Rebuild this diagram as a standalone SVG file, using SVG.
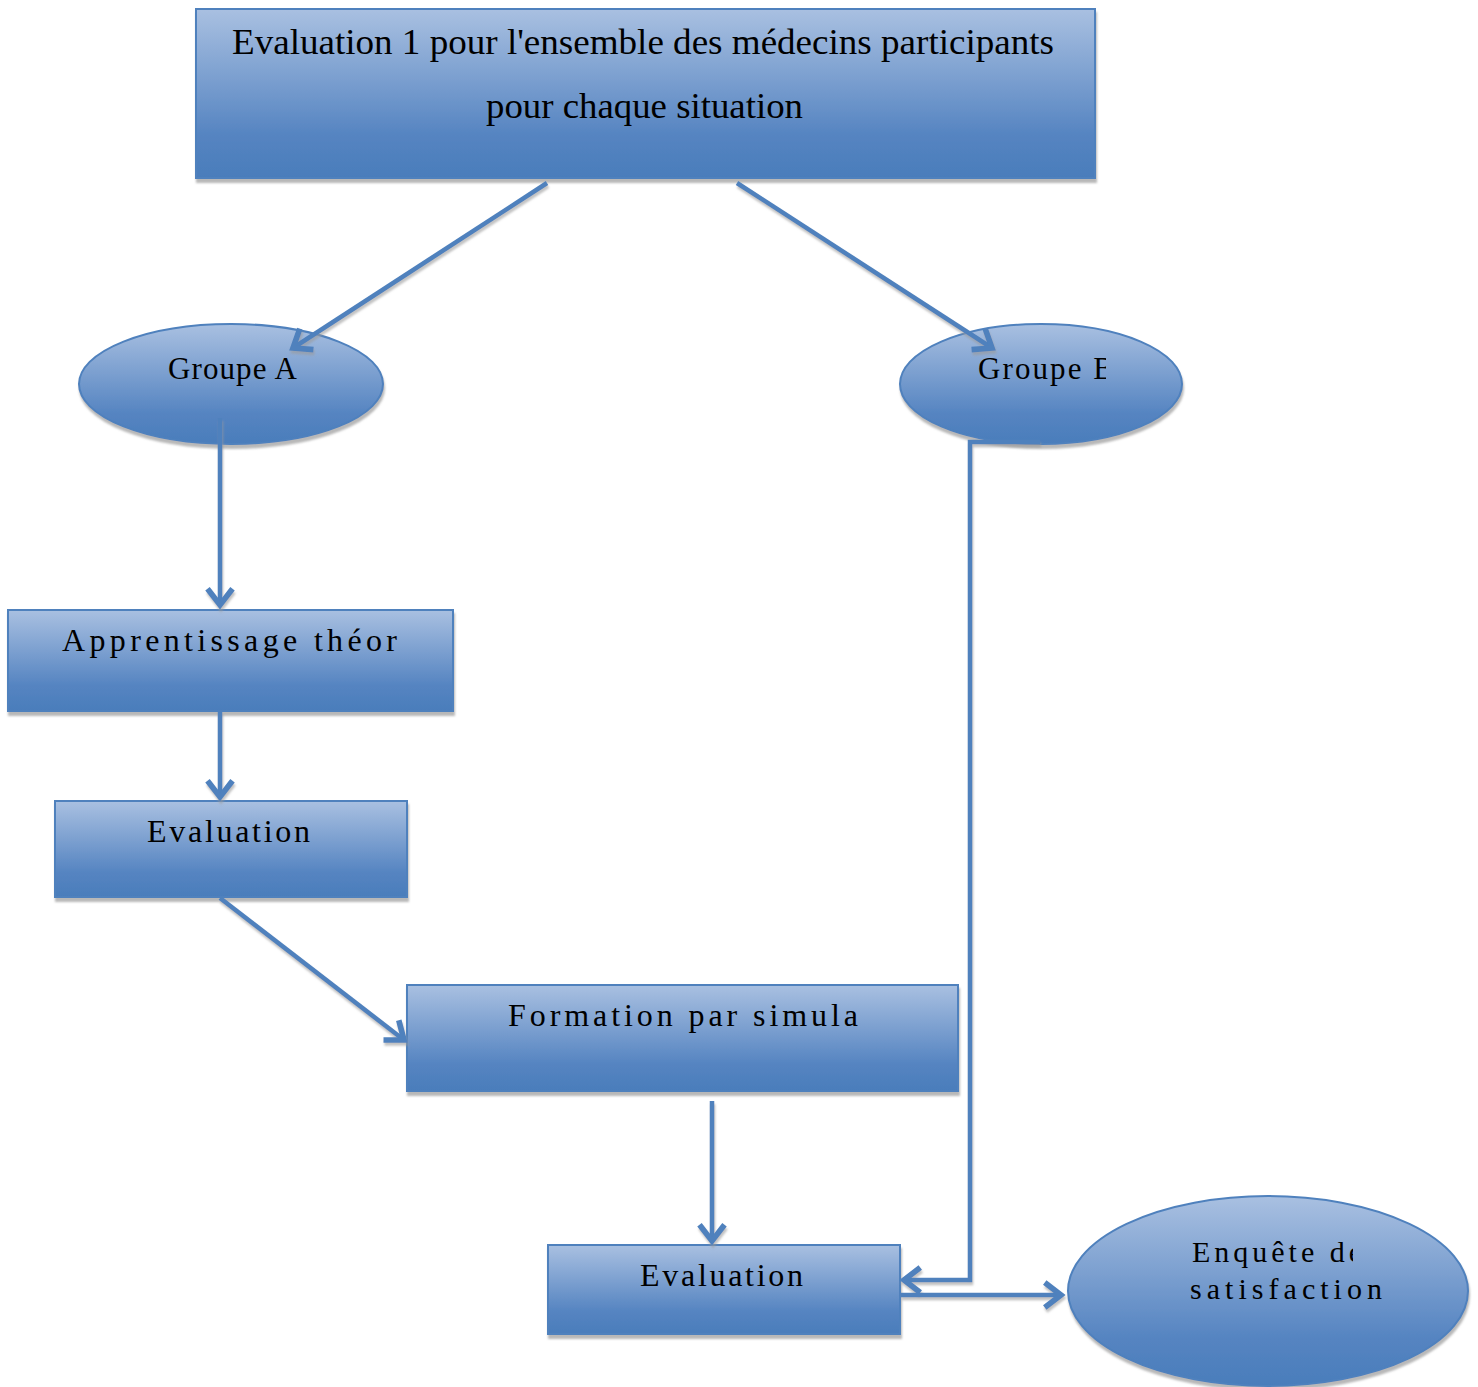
<svg xmlns="http://www.w3.org/2000/svg" width="1478" height="1387" viewBox="0 0 1478 1387">
<style>
.node{fill:url(#g);stroke:#4f81bd;stroke-width:2;filter:url(#sh)}
.t{font-family:"Liberation Serif","DejaVu Serif",serif;fill:#000;text-anchor:start}
.c{fill:none;stroke:#4f81bd;stroke-width:4.5;filter:url(#sh2)}
.a{marker-end:url(#ah)}
</style>
<defs>
<linearGradient id="g" x1="0" y1="0" x2="0" y2="1">
<stop offset="0" stop-color="#a9c0e1"/>
<stop offset="0.75" stop-color="#5584c1"/>
<stop offset="1" stop-color="#4a7dbb"/>
</linearGradient>
<filter id="sh" x="-5%" y="-5%" width="110%" height="115%">
<feDropShadow dx="1" dy="4" stdDeviation="1" flood-color="#888" flood-opacity="0.6"/>
</filter>
<filter id="sh2" filterUnits="userSpaceOnUse" x="0" y="0" width="1478" height="1387">
<feDropShadow dx="1" dy="3" stdDeviation="0.8" flood-color="#999" flood-opacity="0.6"/>
</filter>
<marker id="ah" markerUnits="userSpaceOnUse" markerWidth="30" markerHeight="30" viewBox="-16 -12 20 24" refX="0" refY="0" orient="auto">
<path d="M-13,-10 L0,0 L-13,10" fill="none" stroke="#4f81bd" stroke-width="4.5"/>
</marker>
<clipPath id="cb"><rect x="900" y="320" width="206" height="130"/></clipPath>
<clipPath id="ce"><rect x="1070" y="1220" width="283" height="50"/></clipPath>
</defs>

<g id="top">
<rect class="node" x="196" y="9" width="899" height="169"/>
<text class="t" x="232" y="54" font-size="35" textLength="822" lengthAdjust="spacingAndGlyphs">Evaluation 1 pour l'ensemble des médecins participants</text>
<text class="t" x="486" y="118" font-size="35" textLength="317" lengthAdjust="spacingAndGlyphs">pour chaque situation</text>
</g>

<g id="groupeA">
<ellipse class="node" cx="231" cy="384" rx="152" ry="60"/>
<text class="t" x="168" y="379" font-size="31" textLength="129" lengthAdjust="spacing">Groupe A</text>
</g>

<g id="groupeB">
<ellipse class="node" cx="1041" cy="384" rx="141" ry="60"/>
<text class="t" x="978" y="379" font-size="31" textLength="136" lengthAdjust="spacing" clip-path="url(#cb)">Groupe B</text>
</g>

<g id="apprentissage">
<rect class="node" x="8" y="610" width="445" height="101"/>
<text class="t" x="62" y="651" font-size="32" textLength="335" lengthAdjust="spacing">Apprentissage théor</text>
</g>

<g id="evaluation1">
<rect class="node" x="55" y="801" width="352" height="96"/>
<text class="t" x="147" y="842" font-size="32" textLength="163" lengthAdjust="spacing">Evaluation</text>
</g>

<g id="formation">
<rect class="node" x="407" y="985" width="551" height="106"/>
<text class="t" x="508" y="1026" font-size="32" textLength="350" lengthAdjust="spacing">Formation par simula</text>
</g>

<g id="evaluation2">
<rect class="node" x="548" y="1245" width="352" height="89"/>
<text class="t" x="640" y="1286" font-size="32" textLength="163" lengthAdjust="spacing">Evaluation</text>
</g>

<g id="enquete">
<ellipse class="node" cx="1268" cy="1291" rx="200" ry="95"/>
<text class="t" x="1192" y="1262" font-size="30" textLength="170" lengthAdjust="spacing" clip-path="url(#ce)">Enquête de</text>
<text class="t" x="1190" y="1299" font-size="30" textLength="192" lengthAdjust="spacing">satisfaction</text>
</g>

<g id="connectors">
<path class="c a" d="M547,183 L293,348"/>
<path class="c a" d="M737,183 L992,348"/>
<path class="c a" d="M220,418 L220,605"/>
<path class="c a" d="M220,711 L220,797"/>
<path class="c a" d="M220,898 L404,1040"/>
<path class="c a" d="M712,1101 L712,1241"/>
<path class="c a" d="M1040,442 L970,442 L970,1280 L904,1280"/>
<path class="c a" d="M901,1295 L1061,1295"/>
</g>
</svg>
